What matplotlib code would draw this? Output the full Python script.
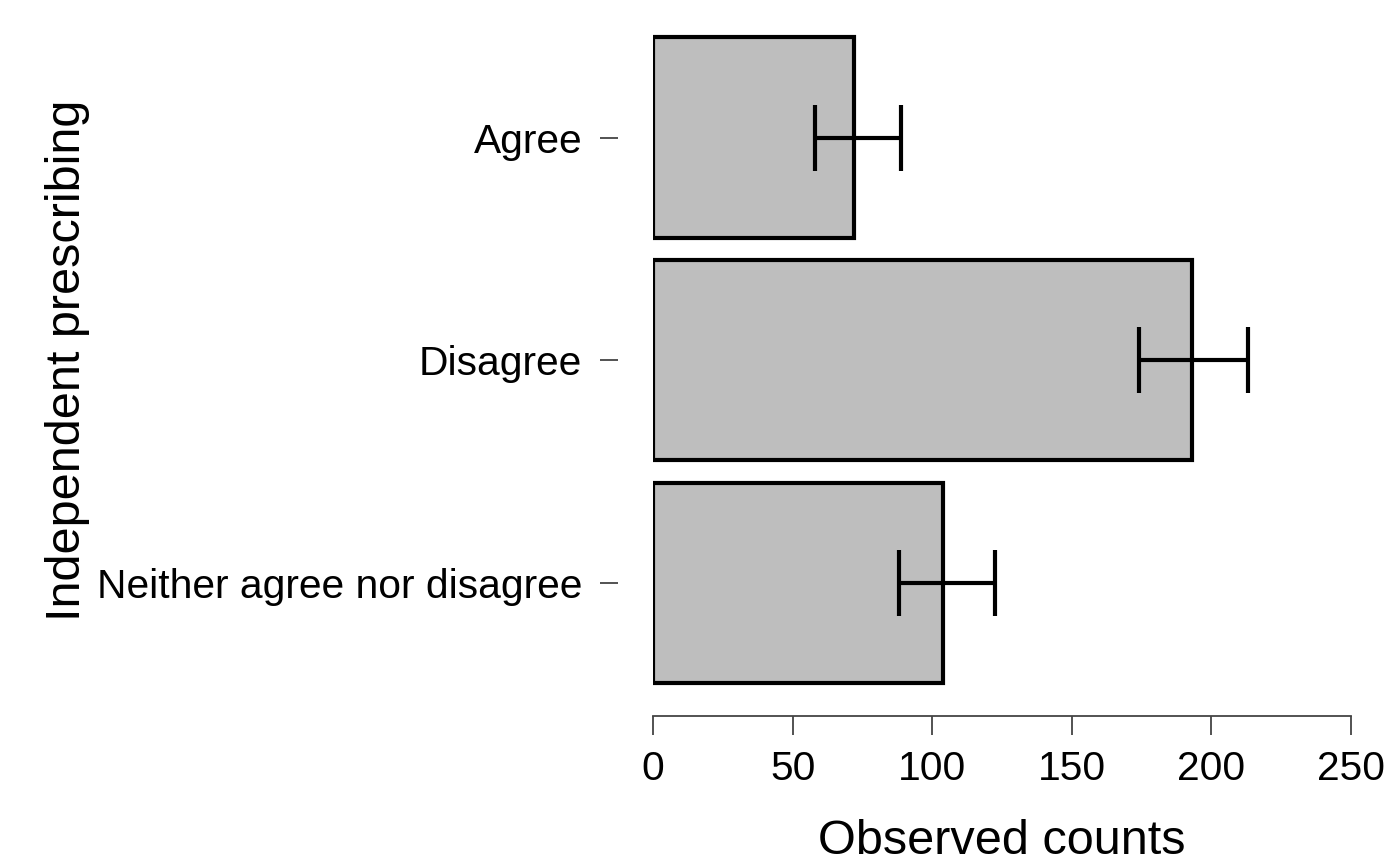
import numpy as np
import matplotlib.pyplot as plt

plt.rcParams['font.family'] = ['Liberation Sans', 'DejaVu Sans']

categorias = ['Agree', 'Disagree', 'Neither agree nor disagree']
conteos = np.array([72, 193, 104])
inferior = np.array([58, 174, 88])
superior = np.array([89, 213, 122.5])

fig = plt.figure(figsize=(13.86, 8.57), dpi=100)
ax = fig.add_axes([0.47114, 0.19020, 0.50361, 0.77917])

y = np.arange(len(categorias))
ax.barh(y, conteos, height=0.9, color='#BEBEBE', edgecolor='black', linewidth=3)
ax.errorbar(conteos, y, xerr=[conteos - inferior, superior - conteos], fmt='none',
            ecolor='black', elinewidth=3, capsize=24, capthick=3)

ax.set_xlim(0, 250)
ax.set_ylim(2.5, -0.5)
ax.set_xticks([0, 50, 100, 150, 200, 250])
ax.set_yticks(y)
ax.set_yticklabels(categorias)

for s in ['top', 'right']:
    ax.spines[s].set_visible(False)
ax.spines['left'].set_position(('outward', 25))
ax.spines['left'].set_color('none')
ax.spines['bottom'].set_position(('outward', 16))
ax.spines['bottom'].set_bounds(0, 250)
ax.spines['bottom'].set_color('#444444')
ax.spines['bottom'].set_linewidth(1.3)

ax.tick_params(axis='x', length=14, width=1.3, color='#444444', pad=10, labelsize=29.3)
ax.tick_params(axis='y', length=13, width=1.3, color='#444444', pad=13, labelsize=29.3)

fig.text(68 / 1386, 1 - 360 / 857, 'Independent prescribing', rotation=90,
         ha='center', va='center', fontsize=35)
fig.text(1002 / 1386, 0.004, 'Observed counts', ha='center', va='baseline', fontsize=35)

fig.savefig('out.png', dpi=100)
